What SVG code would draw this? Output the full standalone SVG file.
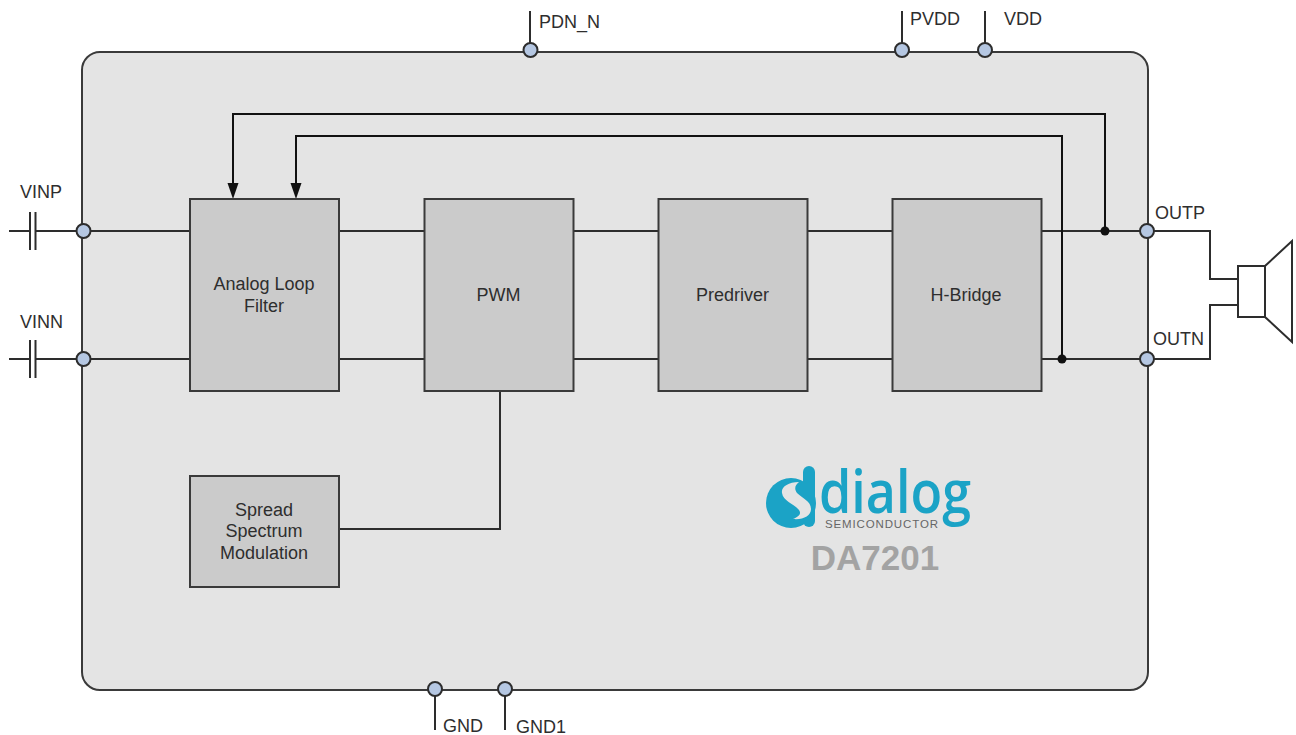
<svg xmlns="http://www.w3.org/2000/svg" width="1296" height="735" viewBox="0 0 1296 735">
<style>
text{font-family:"Liberation Sans",Arial,sans-serif;font-size:18px;fill:#2e2e2e}
.c{text-anchor:middle}
.w{fill:none;stroke:#2d2d2d;stroke-width:2}
.b{fill:none;stroke:#111;stroke-width:2}
.box{fill:#cbcbcb;stroke:#3a3a3a;stroke-width:2}
.pin{fill:#b5c7e2;stroke:#2d2d2d;stroke-width:2}
</style>
<rect width="1296" height="735" fill="#fff"/>
<g id="chip"><rect x="82" y="52" width="1066" height="638" rx="18" fill="#e4e4e4" stroke="#3a3a3a" stroke-width="2"/></g>
<g id="connectors">
<path class="w" d="M9 231H29M36 231H83M83 231H190M339 231H424M573 231H658M807 231H892M1041 231H1147M1147 231H1210V279H1238"/>
<path class="w" d="M9 359H29M36 359H83M83 359H190M339 359H424M573 359H658M807 359H892M1041 359H1147M1147 359H1210V305H1238"/>
<path class="w" d="M30 212V250M35.500 212V250M30 340V378M35.500 340V378"/>
<path class="b" d="M1105 231V114H233V184"/>
<path class="b" d="M1062 359V136H296V184"/>
<path d="M227.500 183H238.500L233 199ZM290.500 183H301.500L296 199Z" fill="#111"/>
<circle cx="1105" cy="231" r="4.500" fill="#111"/><circle cx="1062" cy="359" r="4.500" fill="#111"/>
<path class="w" d="M500 391V529H339"/>
<path class="w" d="M530 11V50M902 11V50M985 11V50M435 689V730M505 689V730"/>
</g>
<g id="vinp"><circle class="pin" cx="83.500" cy="231" r="7"/><text x="20" y="197.500">VINP</text></g>
<g id="vinn"><circle class="pin" cx="83.500" cy="359" r="7"/><text x="20" y="327.500">VINN</text></g>
<g id="outp"><circle class="pin" cx="1147" cy="231" r="7"/><text x="1155" y="218.500">OUTP</text></g>
<g id="outn"><circle class="pin" cx="1147" cy="359" r="7"/><text x="1153" y="345">OUTN</text></g>
<g id="pdn"><circle class="pin" cx="530.500" cy="50" r="7"/><text x="539" y="27.500">PDN_N</text></g>
<g id="pvdd"><circle class="pin" cx="902" cy="50" r="7"/><text x="910" y="24.500">PVDD</text></g>
<g id="vdd"><circle class="pin" cx="985" cy="50" r="7"/><text x="1004" y="24.500">VDD</text></g>
<g id="gnd"><circle class="pin" cx="435" cy="689" r="7"/><text x="443" y="732">GND</text></g>
<g id="gnd1"><circle class="pin" cx="505" cy="689" r="7"/><text x="516" y="732.500">GND1</text></g>
<g id="filter"><rect class="box" x="190" y="199" width="149" height="192"/><text class="c" x="264" y="290">Analog Loop</text><text class="c" x="264" y="311.500">Filter</text></g>
<g id="pwm"><rect class="box" x="424.500" y="199" width="149" height="192"/><text class="c" x="498.500" y="300.500">PWM</text></g>
<g id="predriver"><rect class="box" x="658.500" y="199" width="149" height="192"/><text class="c" x="732.500" y="300.500">Predriver</text></g>
<g id="hbridge"><rect class="box" x="892.500" y="199" width="149" height="192"/><text class="c" x="966" y="300.500">H-Bridge</text></g>
<g id="ssm"><rect class="box" x="190" y="476" width="149" height="111"/><text class="c" x="264" y="515.500">Spread</text><text class="c" x="264" y="537">Spectrum</text><text class="c" x="264" y="558.500">Modulation</text></g>
<g id="speaker"><rect x="1238" y="266" width="27" height="51" fill="#fff" stroke="#2d2d2d" stroke-width="2"/><path d="M1265 266L1292 241V342L1265 317Z" fill="#fff" stroke="#2d2d2d" stroke-width="2"/></g>
<g id="logo">
<circle cx="791" cy="503" r="25" fill="#1ba3c6"/>
<rect x="803" y="466" width="12" height="61" rx="6" fill="#1ba3c6"/>
<path d="M799 482C788 482 781 487 782 493C783 501 793 503 799 510C802 514 798 517 793 519C803 520 811 516 811 509C811 501 802 498 797 493C794 489 795 485 799 482Z" fill="#e4e4e4"/>
<text x="819" y="513" style="font-family:'Open Sans','Liberation Sans',sans-serif;font-size:59px;font-weight:600;fill:#1ba3c6" textLength="152" lengthAdjust="spacingAndGlyphs">dialog</text>
<text x="825" y="528" style="font-size:11.500px;fill:#666" textLength="113" lengthAdjust="spacing">SEMICONDUCTOR</text>
<text class="c" x="875" y="570" style="font-size:35px;font-weight:bold;fill:#a3a3a3">DA7201</text>
</g>
</svg>
